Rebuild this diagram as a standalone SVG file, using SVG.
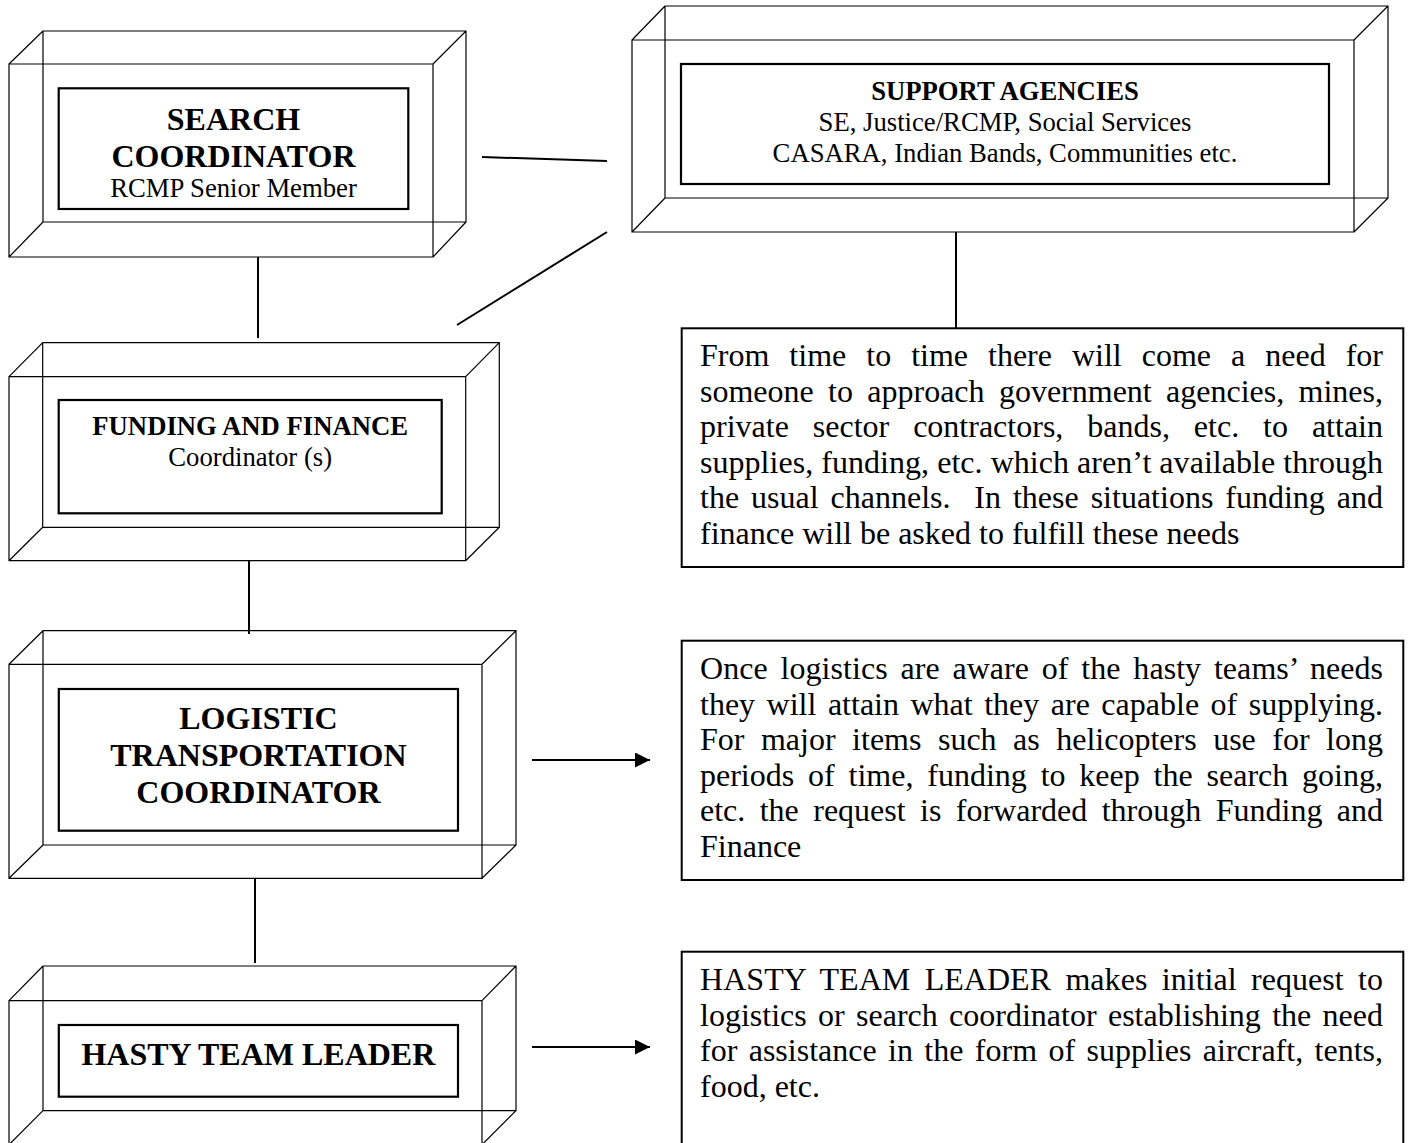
<svg xmlns="http://www.w3.org/2000/svg" width="1408" height="1143" viewBox="0 0 1408 1143">
<style>
.box3d{fill:none;stroke:#000;stroke-width:1.2}
.inner{fill:none;stroke:#000;stroke-width:2.2}
.pbox{fill:none;stroke:#000;stroke-width:2}
.conn{stroke:#000;stroke-width:2;fill:none}
text{font-family:"Liberation Serif","Times New Roman",serif;fill:#000}
.tb{font-weight:bold;font-size:32px;text-anchor:middle}
.sb{font-weight:bold;font-size:26.7px;text-anchor:middle}
.sr{font-size:26.7px;text-anchor:middle}
.p{font-size:32px}
</style>
<defs>
<marker id="arr" markerUnits="userSpaceOnUse" markerWidth="16" markerHeight="16" refX="15" refY="7.5" orient="auto">
<path d="M0,0 L15,7.5 L0,15 z" fill="#000"/>
</marker>
</defs>
<rect width="1408" height="1143" fill="#fff"/>

<g id="search-coordinator">
<path class="box3d" d="M9,64 H433 V257 H9 Z M43,31 H466 V222 H43 Z M9,64 L43,31 M433,64 L466,31 M433,257 L466,222 M9,257 L43,222"/>
<rect class="inner" x="58.7" y="88.3" width="349.6" height="120.7"/>
<text class="tb" x="233.5" y="130">SEARCH</text>
<text class="tb" x="233.5" y="166.7">COORDINATOR</text>
<text class="sr" x="233.5" y="196.7">RCMP Senior Member</text>
</g>

<g id="support-agencies">
<path class="box3d" d="M632,40 H1354 V232 H632 Z M665,6 H1388 V198 H665 Z M632,40 L665,6 M1354,40 L1388,6 M1354,232 L1388,198 M632,232 L665,198"/>
<rect class="inner" x="681" y="64" width="648" height="120"/>
<text class="sb" x="1005" y="100.3">SUPPORT AGENCIES</text>
<text class="sr" x="1005" y="131">SE, Justice/RCMP, Social Services</text>
<text class="sr" x="1005" y="161.7">CASARA, Indian Bands, Communities etc.</text>
</g>

<g id="funding-finance">
<path class="box3d" d="M9,376.7 H465.7 V560.7 H9 Z M42.7,342.7 H499.3 V527.3 H42.7 Z M9,376.7 L42.7,342.7 M465.7,376.7 L499.3,342.7 M465.7,560.7 L499.3,527.3 M9,560.7 L42.7,527.3"/>
<rect class="inner" x="58.7" y="400" width="383" height="113.3"/>
<text class="sb" x="250.2" y="435">FUNDING AND FINANCE</text>
<text class="sr" x="250.2" y="465.7">Coordinator (s)</text>
</g>

<g id="logistic-transportation">
<path class="box3d" d="M9,664.3 H482 V878.3 H9 Z M43,630.7 H516 V845 H43 Z M9,664.3 L43,630.7 M482,664.3 L516,630.7 M482,878.3 L516,845 M9,878.3 L43,845"/>
<rect class="inner" x="58.8" y="689" width="399.2" height="141.7"/>
<text class="tb" x="258.4" y="729.3">LOGISTIC</text>
<text class="tb" x="258.4" y="766.1">TRANSPORTATION</text>
<text class="tb" x="258.4" y="802.9">COORDINATOR</text>
</g>

<g id="hasty-team-leader">
<path class="box3d" d="M9,1000.7 H482 V1144.7 H9 Z M43,966 H516 V1110.7 H43 Z M9,1000.7 L43,966 M482,1000.7 L516,966 M482,1144.7 L516,1110.7 M9,1144.7 L43,1110.7"/>
<rect class="inner" x="58.8" y="1025" width="399.2" height="71.7"/>
<text class="tb" x="258.4" y="1065">HASTY TEAM LEADER</text>
</g>

<g id="note-funding">
<rect class="pbox" x="681.7" y="328.3" width="721.6" height="238.7"/>
<text class="p" x="700" y="366" textLength="683" lengthAdjust="spacing" word-spacing="12">From time to time there will come a need for</text>
<text class="p" x="700" y="401.5" textLength="683" lengthAdjust="spacing" word-spacing="6.3">someone to approach government agencies, mines,</text>
<text class="p" x="700" y="437" textLength="683" lengthAdjust="spacing" word-spacing="15.9">private sector contractors, bands, etc. to attain</text>
<text class="p" x="700" y="472.5" textLength="683" lengthAdjust="spacing">supplies, funding, etc. which aren’t available through</text>
<text class="p" x="700" y="508" textLength="683" lengthAdjust="spacing" word-spacing="3.9" xml:space="preserve">the usual channels.  In these situations funding and</text>
<text class="p" x="700" y="543.5">finance will be asked to fulfill these needs</text>
</g>

<g id="note-logistics">
<rect class="pbox" x="681.7" y="640.7" width="721.6" height="239.3"/>
<text class="p" x="700" y="679" textLength="683" lengthAdjust="spacing" word-spacing="4.7">Once logistics are aware of the hasty teams’ needs</text>
<text class="p" x="700" y="714.5" textLength="683" lengthAdjust="spacing" word-spacing="3.5">they will attain what they are capable of supplying.</text>
<text class="p" x="700" y="750" textLength="683" lengthAdjust="spacing" word-spacing="8.5">For major items such as helicopters use for long</text>
<text class="p" x="700" y="785.5" textLength="683" lengthAdjust="spacing" word-spacing="5.8">periods of time, funding to keep the search going,</text>
<text class="p" x="700" y="821" textLength="683" lengthAdjust="spacing" word-spacing="6.4">etc. the request is forwarded through Funding and</text>
<text class="p" x="700" y="856.5">Finance</text>
</g>

<g id="note-hasty">
<rect class="pbox" x="681.7" y="951.7" width="721.6" height="200"/>
<text class="p" x="700" y="990" textLength="683" lengthAdjust="spacing" word-spacing="6.3">HASTY TEAM LEADER makes initial request to</text>
<text class="p" x="700" y="1025.5" textLength="683" lengthAdjust="spacing" word-spacing="3.3">logistics or search coordinator establishing the need</text>
<text class="p" x="700" y="1061" textLength="683" lengthAdjust="spacing" word-spacing="3.4">for assistance in the form of supplies aircraft, tents,</text>
<text class="p" x="700" y="1096.5">food, etc.</text>
</g>

<g id="connectors">
<line class="conn" x1="258" y1="257" x2="258" y2="338"/>
<line class="conn" x1="482" y1="157" x2="607" y2="161"/>
<line class="conn" x1="607" y1="232" x2="457" y2="325"/>
<line class="conn" x1="956" y1="232" x2="956" y2="328"/>
<line class="conn" x1="249" y1="561" x2="249" y2="634"/>
<line class="conn" x1="255" y1="878" x2="255" y2="963"/>
<line class="conn" x1="532" y1="760" x2="650" y2="760" marker-end="url(#arr)"/>
<line class="conn" x1="532" y1="1047" x2="650" y2="1047" marker-end="url(#arr)"/>
</g>
</svg>
